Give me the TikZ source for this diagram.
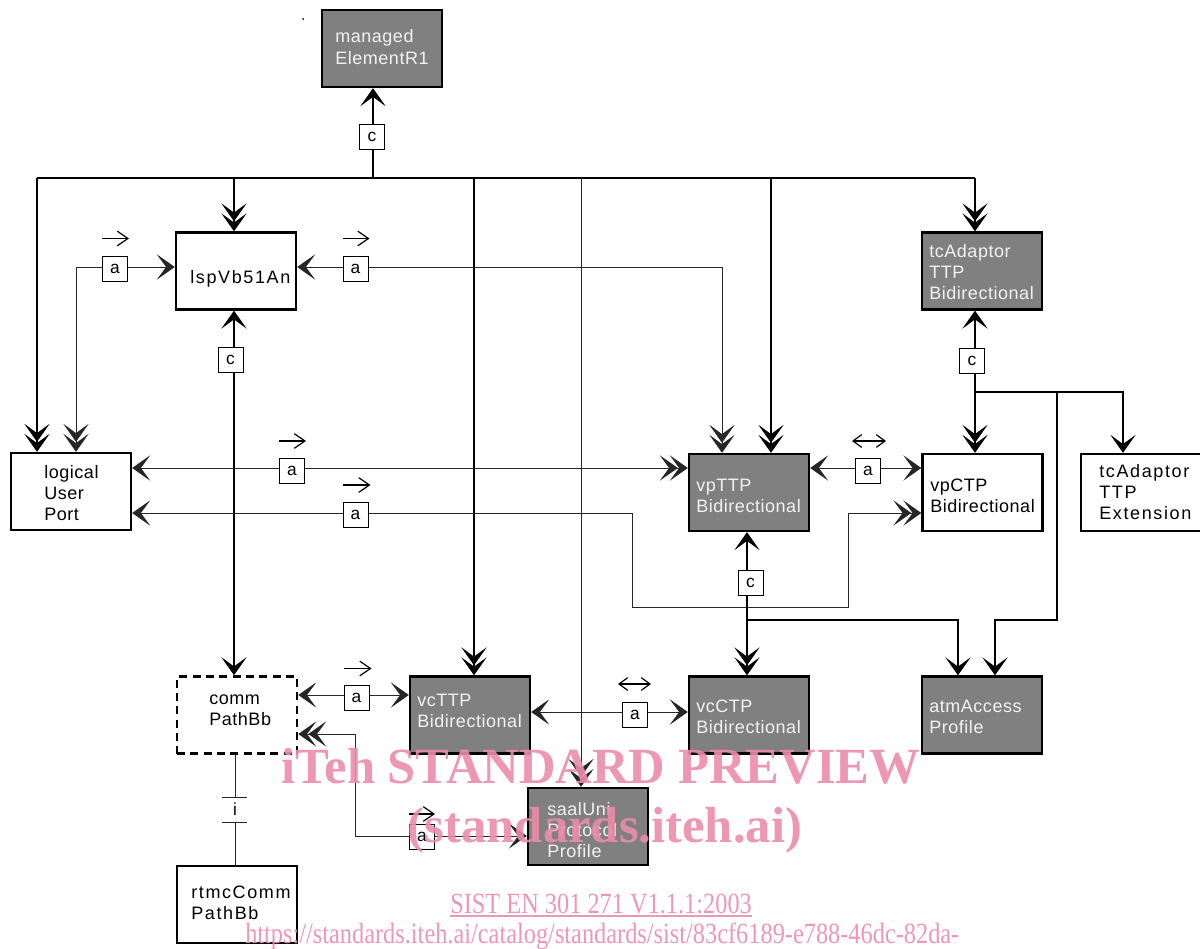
\documentclass[tikz,border=0pt]{standalone}
\usepackage{fontspec}
\setmainfont{Liberation Sans}
\newfontfamily\wmfont{Liberation Serif}
\usetikzlibrary{arrows.meta,calc}
\definecolor{boxgray}{RGB}{128,128,128}
\definecolor{wmcol}{RGB}{236,140,170}
\definecolor{txtw}{RGB}{242,242,242}
\tikzset{
  chev/.tip={Stealth[length=13.5pt,width=19pt,inset=7pt,line width=0.6pt]},
  dchev/.tip={Stealth[length=13.5pt,width=19pt,inset=7pt,line width=0.6pt,sep=-6pt]Stealth[length=13.5pt,width=19pt,inset=7pt,line width=0.6pt]},
  box/.style={draw, line width=1.8pt, minimum width=90pt, minimum height=57.75pt, inner sep=0pt},
  gbox/.style={box, fill=boxgray},
  wbox/.style={box, fill=white},
  txt/.style={anchor=west, align=left, inner sep=0pt, font=\fontsize{13.5}{16}\selectfont\addfontfeature{LetterSpace=3}},
  gtxt/.style={txt, text=txtw},
  lab/.style={draw, line width=0.6pt, fill=white, minimum width=18.75pt, minimum height=18.75pt, inner sep=0pt, font=\fontsize{13}{13}\selectfont},
  thickln/.style={line width=1.5pt},
  thinln/.style={line width=0.75pt, draw=black!85, color=black!85},
  dirarrow/.style={line width=0.9pt, -{Straight Barb[length=8pt,width=11pt]}},
  ddirarrow/.style={line width=0.9pt, {Straight Barb[length=6.5pt,width=9.5pt]}-{Straight Barb[length=6.5pt,width=9.5pt]}},
  wmtext/.style={text=wmcol, inner sep=0pt, opacity=0.9},
}
\begin{document}
\begin{tikzpicture}[x=0.75pt,y=-0.75pt]
\useasboundingbox (0,0) rectangle (1200,949);
\fill (303,19) circle (1);

% boxes
\node[gbox] (me) at (382,48.5) {};
\node[wbox] (lsp) at (236,271) {};
\node[gbox] (tca) at (982,271) {};
\node[wbox] (lup) at (71,491.5) {};
\node[gbox] (vpt) at (749,492.5) {};
\node[wbox] (vpc) at (982.5,492.5) {};
\node[wbox] (tce) at (1141,492.5) {};
\node[wbox, dashed, dash pattern=on 6pt off 4pt, line width=2pt] (cpb) at (237,715) {};
\node[gbox] (vct) at (470,715) {};
\node[gbox] (vcc) at (749,715) {};
\node[gbox] (atm) at (982,715) {};
\node[gbox] (saal) at (588,826.5) {};
\node[wbox] (rtmc) at (237,904.5) {};

% box texts
\node[gtxt] (me-t) at (335,47) {managed\\ElementR1};
\node[txt, font=\fontsize{13.5}{16}\selectfont\addfontfeature{LetterSpace=9}] (lsp-t) at (190,279) {lspVb51An};
\node[gtxt] (tca-t) at (929,272) {tcAdaptor\\TTP\\Bidirectional};
\node[txt] (lup-t) at (44,493) {logical\\User\\Port};
\node[gtxt] (vpt-t) at (696,496) {vpTTP\\Bidirectional};
\node[txt] (vpc-t) at (930,496) {vpCTP\\Bidirectional};
\node[txt, font=\fontsize{13.5}{16}\selectfont\addfontfeature{LetterSpace=9}] (tce-t) at (1099,492) {tcAdaptor\\TTP\\Extension};
\node[txt] (cpb-t) at (209,710) {comm\\PathBb};
\node[gtxt] (vct-t) at (417,711) {vcTTP\\Bidirectional};
\node[gtxt] (vcc-t) at (696,717) {vcCTP\\Bidirectional};
\node[gtxt] (atm-t) at (929,717) {atmAccess\\Profile};
\node[gtxt] (saal-t) at (547,830) {saalUni\\Protocol\\Profile};
\node[txt, font=\fontsize{13.5}{16}\selectfont\addfontfeature{LetterSpace=9}] (rtmc-t) at (191,903) {rtmcComm\\PathBb};

% bus
\coordinate (bL) at (37,178);
\coordinate (bR) at (975,178);
\coordinate (bM) at (373,178);
\coordinate (b2) at (234,178);
\coordinate (b3) at (474,178);
\coordinate (b4) at (581,178);
\coordinate (b5) at (771,178);
\draw[thickln] (bL) -- (bR);
\draw[thickln,-chev] (bM) -- (bM |- me.south);
\draw[thickln,-dchev] (bL) -- (bL |- lup.north);
\draw[thickln,-dchev] (b2) -- (b2 |- lsp.north);
\draw[thickln,-dchev] (b3) -- (b3 |- vct.north);
\draw[thinln,-dchev] (b4) -- (b4 |- saal.north);
\draw[thickln,-dchev] (b5) -- (b5 |- vpt.north);
\draw[thickln,-dchev] (bR) -- (bR |- tca.north);
\node[lab] (c1) at (372,136.5) {c};

% lsp left
\coordinate (p1) at (76,267);
\draw[thinln,chev-dchev] (lsp.west |- p1) -- (p1) -- (p1 |- lup.north);
\node[lab] (a1) at (115,268.5) {a};
\draw[dirarrow] ($(a1)+(-13,-30)$) -- ($(a1)+(14,-30)$);

% lsp right
\coordinate (p2) at (722,267);
\draw[thinln,chev-dchev] (lsp.east |- p2) -- (p2) -- (p2 |- vpt.north);
\node[lab] (a2) at (355.5,268.5) {a};
\draw[dirarrow] ($(a2)+(-13,-30)$) -- ($(a2)+(14,-30)$);

% lsp - cpb
\draw[thickln,chev-chev] (lsp.south -| b2) -- (cpb.north -| b2);
\node[lab] (c2) at (230.5,359.5) {c};

% lup - vpt
\coordinate (q1) at (200,468);
\draw[thinln,chev-dchev] (lup.east |- q1) -- (vpt.west |- q1);
\node[lab] (a3) at (292,470.5) {a};
\draw[dirarrow] ($(a3)+(-13,-29.5)$) -- ($(a3)+(14,-29.5)$);

% lup - vpc
\coordinate (r1) at (632,513);
\coordinate (r2) at (632,607);
\coordinate (r3) at (848,607);
\coordinate (r4) at (848,513);
\draw[thinln,chev-dchev] (lup.east |- r1) -- (r1) -- (r2) -- (r3) -- (r4) -- (vpc.west |- r4);
\node[lab] (a4) at (355.5,515) {a};
\draw[dirarrow] ($(a4)+(-13,-30)$) -- ($(a4)+(15,-30)$);

% vpt - vpc
\draw[thinln,chev-chev] (vpt.east |- q1) -- (vpc.west |- q1);
\node[lab] (a5) at (868,470.5) {a};
\draw[ddirarrow] ($(a5)+(-16,-29.5)$) -- ($(a5)+(18,-29.5)$);

% tca - vpc and branches
\draw[thickln,chev-dchev] (tca.south -| bR) -- (vpc.north -| bR);
\node[lab] (c3) at (972,361) {c};
\coordinate (t1) at (975,392);
\coordinate (t2) at (1123,392);
\coordinate (t3) at (1057,392);
\coordinate (t4) at (1057,620);
\coordinate (t5) at (995,620);
\draw[thickln,-chev] (t1) -- (t2) -- (t2 |- tce.north);
\draw[thickln,-chev] (t3) -- (t4) -- (t5) -- (t5 |- atm.north);

% vpt - vcc
\coordinate (v1) at (747,620);
\coordinate (v2) at (958,620);
\draw[thickln,chev-dchev] (vpt.south -| v1) -- (vcc.north -| v1);
\node[lab] (c4) at (750.5,583) {c};
\draw[thickln,-chev] (v1) -- (v2) -- (v2 |- atm.north);

% cpb - vct
\coordinate (w1) at (300,695);
\draw[thinln,chev-chev] (cpb.east |- w1) -- (vct.west |- w1);
\node[lab] (a6) at (356.5,698) {a};
\draw[dirarrow] ($(a6)+(-13,-29.5)$) -- ($(a6)+(15,-29.5)$);

% cpb - saal
\coordinate (s1) at (355,734);
\coordinate (s2) at (355,836);
\draw[thinln,dchev-chev] (cpb.east |- s1) -- (s1) -- (s2) -- (saal.west |- s2);
\node[lab] (a7) at (422,836.5) {a};
\draw[dirarrow] ($(a7)+(-13,-22.5)$) -- ($(a7)+(13,-22.5)$);

% vct - vcc
\coordinate (u1) at (600,712);
\draw[thinln,chev-chev] (vct.east |- u1) -- (vcc.west |- u1);
\node[lab] (a8) at (635,714.5) {a};
\draw[ddirarrow] ($(a8)+(-17,-30.5)$) -- ($(a8)+(16,-30.5)$);

% cpb - rtmc
\coordinate (i1) at (235,797);
\coordinate (i2) at (235,822);
\draw[thinln] (cpb.south -| i1) -- (i1);
\draw[thinln] (i2) -- (rtmc.north -| i2);
\draw[thinln] ($(i1)+(-13,0)$) -- ($(i1)+(12,0)$);
\draw[thinln] ($(i2)+(-13,0)$) -- ($(i2)+(12,0)$);
\node[font=\fontsize{13}{13}\selectfont, inner sep=0pt] (ilab) at (235,809.5) {i};

% watermark
\node[wmtext, anchor=base west, font=\wmfont\bfseries\fontsize{38}{38}\selectfont] (wm1) at (281,783) {iTeh STANDARD PREVIEW};
\node[wmtext, anchor=base, font=\wmfont\bfseries\fontsize{38}{38}\selectfont] (wm2) at (605,842) {(standards.iteh.ai)};
\node[wmtext, anchor=base west, font=\wmfont\fontsize{22}{22}\selectfont\addfontfeature{FakeStretch=0.83}] (wm3) at (450,913) {SIST EN 301 271 V1.1.1:2003};
\draw[wmcol, opacity=0.9, line width=1.1pt] ($(wm3.base west)+(0,3)$) -- ($(wm3.base east)+(0,3)$);
\node[wmtext, anchor=base west, font=\wmfont\fontsize{22}{22}\selectfont\addfontfeature{FakeStretch=0.83}] (wm4) at (245,943) {https://standards.iteh.ai/catalog/standards/sist/83cf6189-e788-46dc-82da-};
\end{tikzpicture}
\end{document}
